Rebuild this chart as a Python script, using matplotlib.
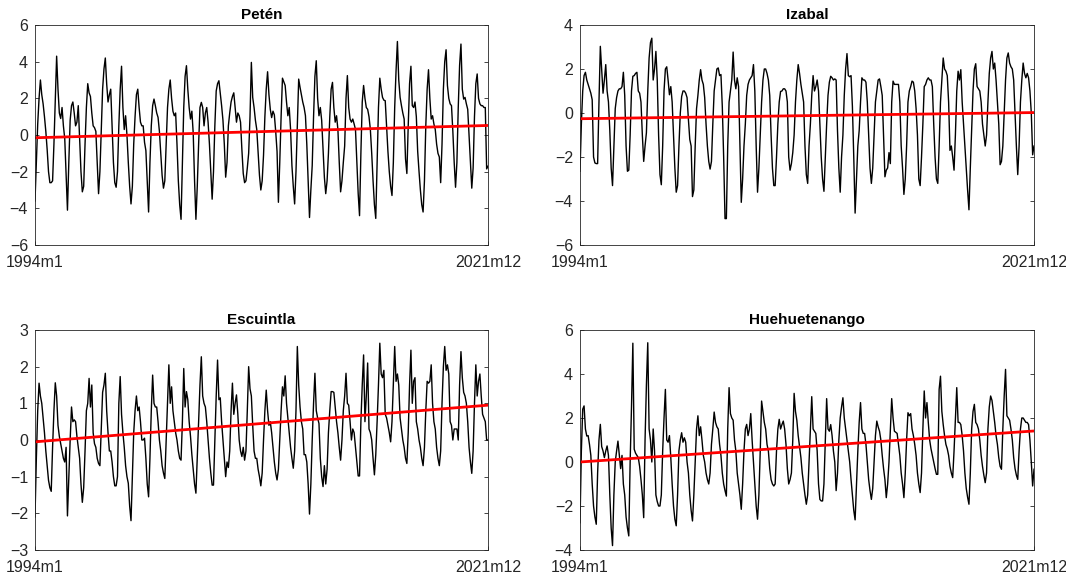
import numpy as np
import matplotlib
matplotlib.use("Agg")
import matplotlib.pyplot as plt

plt.rcParams["font.family"] = ["Liberation Sans", "DejaVu Sans"]

# Monthly series, Jan 1994 .. Dec 2021 (one row per year)
peten = [
    [-3.6, -1.5, 0.6, 2.0, 3.0, 2.2, 1.7, 1.0, 0.2, -0.8, -2.0, -2.6],
    [-2.6, -2.5, -0.5, 2.0, 4.3, 2.5, 1.2, 0.9, 1.5, 0.5, -0.2, -2.2],
    [-4.1, -1.5, 0.8, 1.6, 1.8, 1.2, 0.5, 0.7, 1.6, -0.2, -2.0, -3.1],
    [-2.8, -0.5, 1.5, 2.8, 2.3, 2.1, 1.2, 0.5, 0.4, 0.2, -1.5, -3.2],
    [-2.0, 0.2, 2.5, 3.6, 4.2, 2.8, 1.8, 2.2, 2.5, 0.5, -1.5, -2.6],
    [-2.85, -2.0, 0.5, 2.5, 3.75, 1.5, 0.3, 1.05, 0.0, -1.5, -2.8, -3.76],
    [-2.8, -0.5, 1.0, 2.2, 2.5, 1.5, 0.7, 0.5, 0.5, -0.4, -0.85, -2.5],
    [-4.2, -1.5, 0.5, 1.6, 1.96, 1.6, 1.2, 0.96, 0.2, -1.0, -2.2, -2.9],
    [-2.5, -0.5, 1.5, 2.5, 3.0, 2.0, 1.3, 1.05, 1.2, -0.5, -2.5, -3.8],
    [-4.6, -1.5, 1.5, 3.2, 3.78, 2.5, 1.5, 0.87, 1.3, 0.1, -2.5, -4.6],
    [-2.8, -0.5, 1.5, 1.78, 1.5, 0.5, 1.2, 1.5, 0.7, -0.5, -2.0, -3.5],
    [-2.0, 0.5, 2.4, 2.8, 2.96, 2.3, 1.6, 0.8, -0.5, -2.3, -1.5, 0.5],
    [1.2, 1.8, 2.1, 2.3, 1.5, 0.7, 1.2, 1.05, 0.7, -0.8, -2.1, -2.6],
    [-2.5, -1.8, -1.0, 1.0, 3.96, 2.05, 1.5, 0.8, 0.3, -1.0, -2.2, -3.0],
    [-2.5, -1.1, 1.0, 2.5, 3.45, 2.2, 1.4, 0.95, 1.3, 1.1, 0.2, -0.9],
    [-3.67, -1.5, 1.0, 3.1, 2.9, 2.7, 1.8, 1.05, 1.5, 0.3, -1.67, -2.8],
    [-3.76, -2.0, 0.5, 3.05, 2.6, 2.2, 1.8, 1.5, 1.05, -0.5, -2.5, -4.5],
    [-3.0, -1.67, 1.0, 3.2, 4.05, 2.0, 1.05, 1.5, 0.8, -0.8, -2.3, -3.2],
    [-2.5, -1.0, 1.0, 2.5, 2.87, 1.5, 0.7, 1.05, 0.3, -1.5, -3.1, -2.5],
    [-1.5, -0.6, 2.0, 3.24, 1.5, 0.87, 0.7, 0.87, 0.6, 0.3, -1.5, -3.2],
    [-4.4, -1.0, 1.8, 2.7, 2.0, 1.5, 1.4, 1.0, 0.3, -1.0, -2.5, -3.8],
    [-4.55, -1.5, 1.5, 3.1, 2.5, 2.05, 1.9, 1.87, 0.5, -0.9, -2.0, -2.8],
    [-3.3, -1.5, 1.5, 3.5, 5.1, 3.0, 2.05, 1.6, 1.2, 0.87, -1.3, -2.1],
    [0.5, 2.8, 3.75, 1.6, 1.5, 1.8, 1.0, -0.9, -2.0, -3.0, -3.8, -4.2],
    [-2.5, 0.5, 2.5, 3.56, 2.0, 0.87, 1.05, 0.6, 0.3, -0.5, -1.0, -1.2],
    [-2.6, -0.5, 2.5, 4.0, 4.65, 2.7, 2.0, 1.7, 1.6, 0.2, -1.5, -2.85],
    [-1.5, 1.5, 3.8, 4.96, 2.5, 1.96, 2.05, 1.7, 1.4, 0.0, -1.5, -2.9],
    [-1.8, 1.0, 2.8, 3.33, 2.0, 1.7, 1.6, 1.6, 1.5, 1.5, -1.85, -1.7],
]

izabal = [
    [-2.65, -0.5, 1.0, 1.7, 1.85, 1.5, 1.3, 1.1, 0.9, 0.6, -2.0, -2.27],
    [-2.3, -2.3, 0.5, 3.03, 2.0, 0.9, 1.5, 2.2, 1.0, 0.5, -0.8, -2.5],
    [-3.3, -1.5, 0.2, 0.7, 1.0, 1.1, 1.1, 1.2, 1.85, 0.8, -1.5, -2.65],
    [-2.6, -1.0, 1.0, 1.67, 1.7, 1.8, 1.85, 1.0, 0.9, 0.5, -1.0, -2.2],
    [-1.5, -0.9, 1.0, 2.5, 3.2, 3.4, 1.5, 2.0, 2.8, 1.5, -1.0, -2.8],
    [-3.26, -1.5, 1.0, 2.0, 2.1, 1.5, 0.83, 1.2, 0.5, -1.0, -2.5, -3.6],
    [-3.3, -1.5, 0.0, 0.75, 1.0, 1.0, 0.9, 0.7, -0.3, -1.2, -1.5, -3.8],
    [-3.5, -1.5, 0.2, 0.8, 1.5, 1.97, 1.5, 1.3, 0.7, -0.5, -1.5, -2.2],
    [-2.55, -2.2, -0.5, 1.0, 1.5, 2.0, 2.05, 1.7, 1.75, 0.3, -2.0, -4.8],
    [-4.8, -1.5, 0.5, 1.0, 1.5, 2.77, 1.5, 1.1, 1.6, 1.2, -1.5, -4.06],
    [-3.0, -1.5, -0.5, 0.8, 1.3, 1.5, 1.6, 1.7, 2.2, 1.0, -1.5, -3.6],
    [-2.5, -1.0, 0.5, 1.5, 2.0, 2.0, 1.8, 1.5, 0.8, -1.0, -2.5, -3.3],
    [-3.3, -2.0, -0.5, 0.5, 0.98, 1.0, 1.1, 1.1, 1.0, 0.5, -2.0, -2.6],
    [-2.3, -1.8, -1.0, 0.5, 1.5, 2.2, 1.8, 1.3, 0.9, 0.5, -1.5, -2.8],
    [-3.2, -1.5, -0.5, 0.8, 1.7, 1.0, 1.2, 1.5, 1.0, -0.5, -2.0, -3.0],
    [-3.56, -2.0, -0.5, 0.8, 1.4, 1.67, 1.6, 1.5, 1.55, 1.5, -0.8, -2.5],
    [-3.6, -2.0, -1.0, 0.8, 2.0, 2.7, 1.7, 1.65, 1.7, 0.3, -2.0, -4.55],
    [-3.0, -1.5, -0.8, 0.5, 1.6, 1.5, 1.5, 1.4, 0.5, -1.0, -2.5, -3.2],
    [-2.5, -1.0, 0.5, 1.0, 1.5, 1.55, 1.2, 0.8, -1.0, -2.9, -2.6, -2.5],
    [-1.8, -2.3, 0.5, 1.45, 1.3, 1.3, 1.3, 1.3, 0.5, -1.5, -2.5, -3.7],
    [-3.0, -1.5, 0.5, 1.0, 1.2, 1.45, 1.4, 1.0, 0.2, -1.0, -3.0, -3.3],
    [-2.0, -0.5, 1.2, 1.3, 1.5, 1.6, 1.5, 1.5, 1.2, -0.5, -2.0, -3.0],
    [-3.2, -1.5, 0.5, 1.5, 2.5, 2.0, 1.9, 1.7, 0.5, -1.7, -1.5, -2.0],
    [-2.6, -1.0, 1.0, 1.9, 1.5, 1.97, 0.5, -0.5, -1.5, -2.5, -3.5, -4.4],
    [-2.5, -0.8, 1.0, 2.0, 2.24, 1.2, 1.1, 1.0, 0.5, -0.5, -1.0, -1.5],
    [-1.0, 0.5, 1.8, 2.5, 2.8, 2.0, 2.27, 1.5, 0.5, -0.5, -2.35, -2.2],
    [-1.5, 0.0, 1.5, 2.5, 2.73, 2.27, 2.1, 2.0, 1.5, 0.0, -1.5, -2.8],
    [-1.5, 0.5, 1.5, 2.27, 1.8, 1.6, 1.8, 1.6, 1.0, 0.0, -1.9, -1.5],
]

escuintla = [
    [-2.1, -0.5, 0.8, 1.55, 1.2, 1.0, 0.6, 0.2, -0.3, -0.7, -1.1, -1.3],
    [-1.4, -0.2, 0.8, 1.56, 1.2, 0.4, 0.1, -0.1, -0.3, -0.5, -0.6, -0.2],
    [-2.07, -1.0, 0.0, 0.9, 0.5, 0.55, 0.5, 0.1, -0.2, -0.5, -1.2, -1.7],
    [-1.3, -0.3, 0.8, 1.0, 1.68, 0.9, 1.5, 0.2, -0.1, -0.2, -0.5, -0.64],
    [-0.7, 0.3, 1.3, 1.5, 1.82, 0.8, 0.2, -0.3, -0.3, -0.6, -1.0, -1.25],
    [-1.25, -1.0, 1.0, 1.73, 0.7, 0.2, -0.2, -0.7, -1.0, -1.18, -1.8, -2.2],
    [-1.0, 0.2, 0.8, 1.2, 0.8, 0.9, 0.5, 0.0, 0.0, 0.05, -0.5, -1.2],
    [-1.55, -0.5, 0.8, 1.77, 1.0, 0.9, 0.9, 0.5, 0.0, -0.3, -0.7, -0.9],
    [-1.05, 0.0, 1.0, 2.05, 1.0, 1.45, 0.8, 0.5, 0.2, 0.0, -0.3, -0.5],
    [-0.55, 0.5, 1.95, 0.9, 1.32, 1.1, 0.5, 0.1, -0.4, -0.8, -1.2, -1.45],
    [-0.5, 0.5, 1.5, 2.27, 1.2, 1.0, 0.9, 0.5, 0.0, -0.5, -0.9, -1.23],
    [-1.23, 0.0, 1.2, 2.18, 1.1, 1.15, 0.5, 0.0, -0.5, -1.0, -0.6, -0.75],
    [-0.3, 0.8, 1.55, 0.7, 1.0, 1.23, 0.7, 0.0, -0.3, -0.45, -0.2, -0.55],
    [-0.3, 0.8, 2.0, 1.4, 1.2, 0.4, -0.3, -0.5, -0.5, -0.8, -1.0, -1.25],
    [-0.9, 0.0, 0.8, 1.36, 0.8, 0.4, 0.5, 0.2, -0.2, -0.6, -0.9, -1.09],
    [-0.8, 0.0, 0.8, 1.45, 1.2, 1.75, 1.0, 0.6, 0.2, -0.2, -0.5, -0.77],
    [-0.3, 0.8, 2.55, 1.5, 0.9, 0.5, 0.3, -0.4, -0.4, -0.6, -1.2, -2.02],
    [-1.2, 0.0, 1.0, 1.82, 0.8, 0.6, 0.45, -0.5, -1.0, -1.27, -0.7, -1.2],
    [-0.8, 0.2, 0.8, 1.32, 1.32, 1.3, 0.9, 0.5, 0.2, -0.2, -0.55, 0.0],
    [0.8, 1.2, 1.82, 1.0, 0.95, 0.5, 0.0, 0.3, 0.2, -0.2, -0.6, -0.98],
    [-0.98, 0.5, 1.5, 2.32, 0.5, 1.2, 2.1, 0.3, 0.2, 0.0, -0.5, -0.95],
    [-0.4, 0.5, 1.5, 2.64, 1.8, 1.7, 1.9, 0.7, 0.6, 0.4, 0.2, -0.05],
    [0.5, 1.5, 2.55, 1.6, 1.8, 1.5, 0.6, 0.3, 0.0, -0.2, -0.5, -0.64],
    [0.2, 1.5, 2.45, 1.0, 1.6, 1.7, 0.5, 0.3, 0.0, -0.2, -0.5, -0.7],
    [-0.2, 0.8, 1.6, 1.55, 1.6, 2.05, 1.0, 0.5, 0.3, -0.2, -0.5, -0.7],
    [-0.3, 1.0, 2.0, 2.55, 1.9, 2.05, 1.8, 0.5, 0.4, 0.0, 0.3, 0.3],
    [0.3, 0.0, 1.5, 2.41, 1.7, 1.3, 1.2, 1.0, 0.5, -0.2, -0.6, -0.91],
    [-0.3, 1.0, 2.05, 1.2, 1.6, 1.8, 1.2, 0.7, 0.6, 0.5, 0.0, 0.0],
]

huehuetenango = [
    [-2.76, 0.5, 2.4, 2.55, 1.5, 1.18, 1.2, 0.8, 0.3, -1.0, -2.0, -2.5],
    [-2.83, -0.5, 1.0, 1.71, 0.7, 0.5, 0.2, 0.5, 0.73, 0.3, -1.5, -3.0],
    [-3.8, -1.5, 0.0, 0.5, 0.95, 0.3, -0.3, 0.3, -1.0, -1.5, -2.5, -3.0],
    [-3.36, 0.0, 2.5, 5.4, 0.58, 0.4, 0.3, 0.2, -0.2, -0.8, -1.5, -2.53],
    [1.0, 3.5, 5.42, 1.5, 1.0, 0.0, 1.5, 0.5, -1.5, -1.8, -2.0, -2.0],
    [-1.5, 0.5, 2.0, 3.3, 1.0, 0.9, 1.2, 0.2, -1.0, -2.0, -2.6, -2.9],
    [-1.5, 0.5, 1.0, 1.33, 0.9, 1.1, 0.9, 0.0, -0.5, -1.5, -2.2, -2.68],
    [-1.5, 0.0, 1.5, 2.1, 1.2, 1.6, 1.0, 0.3, 0.0, -0.5, -0.8, -1.0],
    [-0.5, 0.8, 1.5, 2.27, 1.8, 1.6, 1.5, 0.8, 0.3, -0.5, -1.0, -1.3],
    [-1.55, 1.5, 3.38, 2.2, 2.0, 1.9, 1.0, 0.5, -0.5, -1.0, -1.5, -2.15],
    [-1.0, 0.5, 1.5, 1.71, 1.2, 1.5, 2.2, 1.0, 0.0, -1.0, -2.0, -2.6],
    [-1.5, 0.5, 2.77, 2.3, 1.8, 1.5, 0.8, 0.5, -0.3, -0.8, -1.0, -1.09],
    [-1.0, 0.5, 1.5, 1.94, 1.5, 1.7, 1.86, 1.5, 0.8, -0.3, -1.0, -0.8],
    [-0.5, 1.0, 3.12, 2.3, 1.9, 1.2, 0.7, 0.2, -0.5, -1.0, -1.5, -1.92],
    [-1.5, 0.0, 1.5, 2.97, 1.5, 1.4, 1.3, 0.5, -1.0, -1.7, -1.77, -1.77],
    [-1.0, 1.0, 2.88, 1.5, 1.4, 1.7, 1.2, 0.5, 0.0, -1.3, -0.5, 1.0],
    [2.0, 2.5, 2.92, 2.0, 1.5, 1.0, 0.5, 0.0, -0.8, -1.5, -2.2, -2.63],
    [-1.0, 0.5, 1.8, 2.7, 1.5, 1.3, 1.3, 0.8, 0.0, -0.8, -1.3, -1.7],
    [-1.2, 0.0, 1.2, 1.86, 1.6, 1.4, 1.0, 0.3, -0.3, -0.8, -1.62, -1.0],
    [0.0, 1.5, 2.88, 2.0, 1.4, 1.35, 1.3, 0.8, 0.3, -0.5, -1.0, -1.62],
    [-0.5, 1.0, 2.24, 2.1, 2.2, 1.5, 1.2, 0.8, 0.3, -0.5, -1.0, -1.39],
    [-0.5, 1.5, 3.23, 2.0, 2.7, 1.8, 1.0, 0.6, 0.3, 0.0, -0.3, -0.56],
    [-0.56, 3.3, 3.9, 2.3, 1.7, 1.2, 0.8, 0.6, 0.3, -0.2, -0.5, -0.71],
    [0.5, 2.0, 3.38, 1.8, 1.8, 1.7, 1.2, 0.5, -0.5, -1.2, -1.6, -1.92],
    [-0.5, 1.5, 2.3, 2.62, 1.8, 1.7, 1.5, 1.0, 0.3, -0.2, -0.6, -0.94],
    [-0.5, 1.5, 2.5, 3.0, 2.8, 2.3, 1.8, 1.2, 0.8, 0.2, -0.2, -0.33],
    [1.5, 3.0, 4.21, 2.1, 2.0, 1.9, 1.5, 1.0, 0.2, -0.3, -0.6, -0.79],
    [0.5, 1.5, 2.0, 2.0, 1.9, 1.8, 1.8, 1.7, 1.0, 0.0, -1.09, -0.33],
]

titles = ["Petén", "Izabal", "Escuintla", "Huehuetenango"]
series = [peten, izabal, escuintla, huehuetenango]
trend_start = [-0.15, -0.26, -0.05, 0.0]
trend_end = [0.52, 0.02, 0.95, 1.41]
y_limits = [(-6, 6), (-6, 4), (-3, 3), (-4, 6)]
y_steps = [2, 2, 1, 2]
x_tick_labels = ["1994m1", "2021m12"]

fig = plt.figure(figsize=(10.66, 5.76), dpi=100)
W, H = 1066, 576
boxes = [(35, 25, 488, 245), (580, 25, 1034, 245),
         (35, 330, 488, 550), (580, 330, 1034, 550)]

axis_color = "#262626"
for (x0, y0, x1, y1), title, data, ys, ye, ylim, step in zip(
        boxes, titles, series, trend_start, trend_end, y_limits, y_steps):
    ax = fig.add_axes([x0 / W, 1 - y1 / H, (x1 - x0) / W, (y1 - y0) / H])
    values = np.array(data, dtype=float).ravel()
    t = np.arange(values.size)
    ax.plot(t, values, color="black", lw=1.0)
    ax.plot([t[0], t[-1]], [ys, ye], color="#ff0000", lw=2.0)
    ax.set_xlim(t[0], t[-1])
    ax.set_ylim(*ylim)
    ax.set_xticks([t[0], t[-1]])
    ax.set_xticklabels(x_tick_labels)
    ax.set_yticks(np.arange(ylim[0], ylim[1] + step / 2, step))
    ax.tick_params(direction="in", length=3, width=0.6, colors=axis_color,
                   labelsize=11.5, labelcolor=axis_color, right=True, top=False)
    ax.tick_params(axis="x", pad=7)
    ax.tick_params(axis="y", pad=5)
    for sp in ax.spines.values():
        sp.set_color(axis_color)
        sp.set_linewidth(0.6)
    ax.set_title(title, fontsize=11, fontweight="bold", color="black", pad=4)

fig.savefig("out.png", dpi=100)
